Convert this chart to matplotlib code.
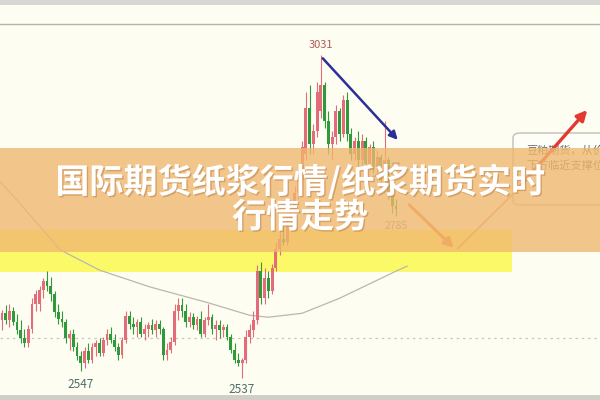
import matplotlib
matplotlib.use("Agg")
import matplotlib.pyplot as plt
from matplotlib.patches import Rectangle, FancyBboxPatch
import matplotlib.patheffects as pe

plt.rcParams['font.family'] = ['Noto Sans CJK SC', 'DejaVu Sans']

# OHLC price data, one entry per candle (left to right)
opens = [2626, 2636, 2625, 2640, 2622, 2610, 2598, 2590, 2612, 2650,
         2650, 2672, 2685, 2678, 2665, 2638, 2628, 2622, 2598, 2605,
         2585, 2570, 2560, 2578, 2565, 2585, 2590, 2575, 2595, 2605,
         2595, 2585, 2572, 2595, 2632, 2620, 2615, 2622, 2605, 2612,
         2618, 2610, 2620, 2612, 2572, 2580, 2592, 2640, 2648, 2640,
         2622, 2630, 2618, 2628, 2605, 2625, 2630, 2612, 2618, 2610,
         2615, 2600, 2580, 2565, 2560, 2565, 2600, 2610, 2625, 2700,
         2660, 2690, 2670, 2705, 2735, 2750, 2745, 2780, 2790, 2820,
         2840, 2880, 2950, 2895, 2915, 2945, 2985, 2930, 2895, 2905,
         2945, 2910, 2962, 2910, 2880, 2900, 2870, 2900, 2865, 2890,
         2860, 2875, 2840, 2870, 2820, 2800]
highs = [2641, 2648, 2650, 2645, 2635, 2625, 2612, 2618, 2660, 2672,
         2678, 2690, 2700, 2692, 2670, 2650, 2640, 2628, 2610, 2612,
         2592, 2578, 2585, 2590, 2590, 2595, 2598, 2600, 2612, 2615,
         2605, 2590, 2600, 2640, 2640, 2630, 2628, 2630, 2620, 2622,
         2628, 2625, 2625, 2615, 2590, 2600, 2650, 2660, 2660, 2650,
         2638, 2636, 2632, 2640, 2630, 2650, 2635, 2625, 2625, 2620,
         2620, 2605, 2590, 2575, 2568, 2610, 2620, 2640, 2710, 2715,
         2705, 2700, 2712, 2745, 2765, 2770, 2790, 2800, 2830, 2850,
         2900, 2975, 2985, 2925, 2990, 3031, 2990, 2945, 2915, 2955,
         2950, 2970, 2975, 2920, 2905, 2915, 2910, 2905, 2895, 2900,
         2885, 2880, 2930, 2875, 2830, 2810]
lows = [2610, 2620, 2615, 2618, 2605, 2590, 2585, 2585, 2606, 2640,
        2640, 2660, 2670, 2655, 2630, 2620, 2615, 2590, 2580, 2578,
        2565, 2547, 2552, 2560, 2560, 2570, 2570, 2570, 2588, 2590,
        2578, 2565, 2568, 2590, 2612, 2605, 2600, 2600, 2595, 2600,
        2605, 2600, 2605, 2565, 2565, 2575, 2588, 2625, 2630, 2615,
        2615, 2612, 2610, 2600, 2600, 2618, 2605, 2595, 2598, 2600,
        2595, 2575, 2560, 2555, 2537, 2560, 2590, 2600, 2620, 2650,
        2650, 2660, 2665, 2700, 2725, 2740, 2740, 2770, 2785, 2810,
        2830, 2870, 2880, 2880, 2905, 2935, 2920, 2880, 2870, 2895,
        2900, 2905, 2900, 2870, 2870, 2860, 2860, 2860, 2855, 2850,
        2840, 2830, 2830, 2810, 2790, 2785]
closes = [2636, 2625, 2640, 2622, 2610, 2598, 2590, 2612, 2650, 2665,
          2672, 2685, 2678, 2665, 2638, 2628, 2622, 2598, 2605, 2585,
          2570, 2560, 2578, 2565, 2585, 2590, 2575, 2595, 2605, 2595,
          2585, 2572, 2595, 2632, 2620, 2615, 2622, 2605, 2612, 2618,
          2610, 2620, 2612, 2572, 2580, 2592, 2640, 2648, 2640, 2622,
          2630, 2618, 2628, 2605, 2625, 2630, 2612, 2618, 2610, 2615,
          2600, 2580, 2565, 2560, 2565, 2600, 2610, 2625, 2700, 2660,
          2690, 2670, 2705, 2735, 2750, 2745, 2780, 2790, 2820, 2840,
          2890, 2950, 2895, 2915, 2975, 2985, 2930, 2895, 2905, 2945,
          2910, 2962, 2910, 2880, 2900, 2870, 2900, 2865, 2890, 2860,
          2875, 2840, 2870, 2820, 2800, 2795]

# moving average (gray line), sampled at candle positions
ma_x = [-1, 4, 15.5, 26, 39.6, 55, 66, 71, 80, 90, 105.6, 108]
ma_y = [2840, 2809, 2733, 2702, 2676, 2652, 2633, 2630, 2636, 2659, 2702, 2708]

ref_level = 2598
peak_label, low1_label, low2_label, last_low_label = "3031", "2547", "2537", "2785"
title_lines = ["国际期货纸浆行情/纸浆期货实时", "行情走势"]
note_lines = ["豆粕期货，从价", "下方临近支撑位"]

fig = plt.figure(figsize=(6, 4), dpi=100)
fig.patch.set_facecolor('#FEFDF1')
ax = fig.add_axes([0, 0, 1, 1])
ax.set_facecolor('#FEFDF1')
ax.set_xlim(-0.53, 159.4)
ax.set_ylim(2503.4, 3115)
ax.axis('off')

red, green = '#E46C7A', '#2F9A3A'
xs = list(range(len(opens)))
cols = [red if c >= o else green for o, c in zip(opens, closes)]
ax.vlines(xs, lows, highs, colors=cols, lw=0.8, zorder=3)
ax.bar(xs, [max(abs(c - o), 1.5) for o, c in zip(opens, closes)],
       bottom=[min(o, c) for o, c in zip(opens, closes)],
       width=0.75, color=cols, zorder=4)

ax.plot(ma_x, ma_y, color='#B8B8B0', lw=0.9, zorder=2)
ax.axhline(ref_level, color='#C8C8C0', lw=0.9, ls=(0, (2, 3)), zorder=1)

# yellow highlight band
ax.add_patch(Rectangle((0, 1 - 272 / 400), 512 / 600, 42 / 400, transform=ax.transAxes,
                       color='#FCF968', zorder=1.5, lw=0))

# price labels
ipk = highs.index(max(highs))
ax.text(ipk, max(highs) + 8, peak_label, color='#B05A5A', fontsize=8,
        ha='center', va='bottom', zorder=6)
ax.text(21, 2547 - 10, low1_label, color='#4E6E6A', fontsize=8.5, ha='center', va='top', zorder=6)
ax.text(64, 2537 - 8, low2_label, color='#4E6E6A', fontsize=8.5, ha='center', va='top', zorder=6)
ax.text(105, 2785 - 8, last_low_label, color='#8A8A80', fontsize=7.5, ha='center', va='top', zorder=6)

# trend arrows
ax.annotate('', xy=(106, 2898), xytext=(ipk, 3029),
            arrowprops=dict(arrowstyle='-|>', color='#2A2F9A', lw=1.8, mutation_scale=12), zorder=7)
ax.annotate('', xy=(107, 2869), xytext=(96, 2835),
            arrowprops=dict(arrowstyle='-|>', color='#8C7AA8', lw=1.5, mutation_scale=10), zorder=7)
ax.annotate('', xy=(121, 2733), xytext=(108, 2805),
            arrowprops=dict(arrowstyle='-|>', color='#EE8048', lw=2.2, mutation_scale=14), zorder=7)
ax.plot([121.5, 136.5], [2735, 2820], color='#E09060', lw=1.0, zorder=7)

# note box on the right (runs off the right edge, as in the screenshot)
ax.add_patch(FancyBboxPatch((513 / 600, 1 - 205 / 400), 0.2, 72 / 400, transform=ax.transAxes,
                            boxstyle='round,pad=0,rounding_size=0.012', fc='#FEFEF8',
                            ec='#C0C0B8', lw=1.0, zorder=6))
ax.text(526 / 600, 1 - 151 / 400, note_lines[0], transform=ax.transAxes, fontsize=8,
        color='#6A6A66', va='center', zorder=6.5)
ax.text(526 / 600, 1 - 165 / 400, note_lines[1], transform=ax.transAxes, fontsize=8,
        color='#6A6A66', va='center', zorder=6.5)
ax.annotate('', xy=(156.5, 2950), xytext=(136.5, 2820),
            arrowprops=dict(arrowstyle='-|>', color='#E23A30', lw=2.4, mutation_scale=15), zorder=7)

# top bars and bottom border
ax.add_patch(Rectangle((0, 1 - 5 / 400), 1, 5 / 400, transform=ax.transAxes,
                       color='#D6D6D2', zorder=8, lw=0))
ax.add_patch(Rectangle((0, 1 - 24 / 400), 1, 19 / 400, transform=ax.transAxes,
                       color='#FDFDF2', zorder=8, lw=0))
ax.axhline(3115 - 24 * 1.529, color='#B4B4AE', lw=1.0, zorder=8)
ax.add_patch(Rectangle((0, 0), 1, 5 / 400, transform=ax.transAxes,
                       color='#CFCFC8', zorder=8, lw=0))

# title banner
ax.add_patch(Rectangle((0, 1 - 252 / 400), 1, 104 / 400, transform=ax.transAxes,
                       color='#F0B870', alpha=0.8, zorder=9, lw=0))
shadow = [pe.withSimplePatchShadow(offset=(1, -1), shadow_rgbFace='#C08850', alpha=0.6)]
ax.text(0.5, 1 - 182 / 400, title_lines[0], transform=ax.transAxes, fontsize=24.5,
        fontweight='heavy', color='white', ha='center', va='center', zorder=10,
        path_effects=shadow)
ax.text(0.5, 1 - 217 / 400, title_lines[1], transform=ax.transAxes, fontsize=24.5,
        fontweight='heavy', color='white', ha='center', va='center', zorder=10,
        path_effects=shadow)

fig.savefig('out.png', dpi=100, facecolor=fig.get_facecolor())
